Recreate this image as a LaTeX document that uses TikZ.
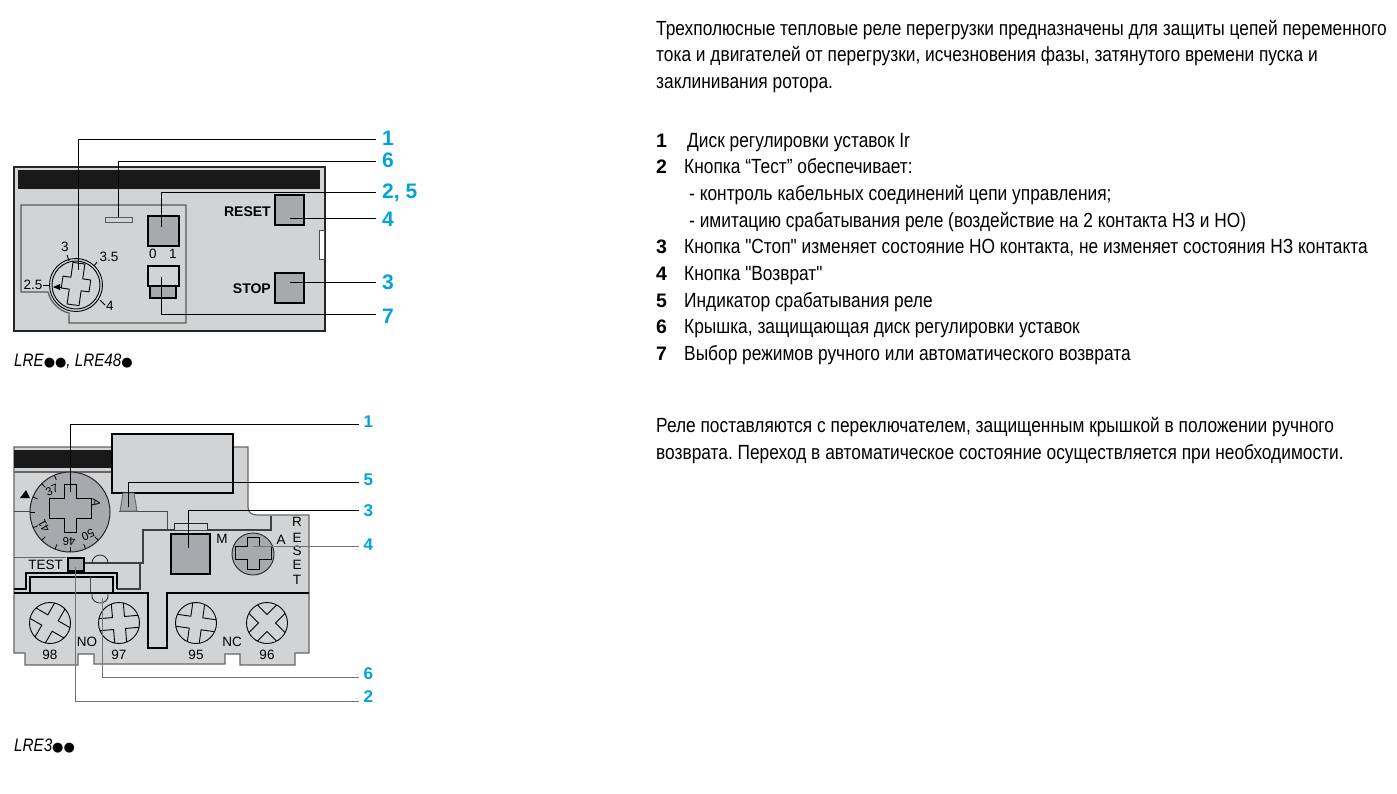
\documentclass[tikz,border=0pt]{standalone}
\usepackage{fontspec}
\setmainfont{Liberation Sans}[FakeStretch=0.845, Ligatures=TeXOff]
\newfontfamily\labelfont{Liberation Sans}
\newfontfamily\dotfont{DejaVu Sans}
\usetikzlibrary{positioning, calc}
\frenchspacing

\definecolor{bodygray}{HTML}{D1D3D4}
\definecolor{btngray}{HTML}{A7A9AC}
\definecolor{callblue}{HTML}{00A3DA}

% cross head: half width and length of upright arm, length and half width of side arm
\newcommand{\crossshape}[4]{(-#1,-#2) -- (#1,-#2) -- (#1,-#4) -- (#3,-#4) -- (#3,#4) -- (#1,#4) -- (#1,#2) -- (-#1,#2) -- (-#1,#4) -- (-#3,#4) -- (-#3,-#4) -- (-#1,-#4) -- cycle}
\newcommand{\bigdots}[1]{{\dotfont\fontsize{13}{13}\selectfont #1}}

\begin{document}
\begin{tikzpicture}[
    x=1pt, y=-1pt,
    txt/.style={anchor=base west, inner sep=0pt, font=\fontsize{20.5}{20.5}\selectfont},
    itemnum/.style={anchor=base west, inner sep=0pt, font=\labelfont\bfseries\fontsize{19.5}{19.5}\selectfont},
    caption/.style={anchor=base west, inner sep=0pt, font=\itshape\fontsize{18}{18}\selectfont},
    num/.style={anchor=west, inner sep=0pt, inner xsep=6pt, text=callblue, font=\labelfont\bfseries\fontsize{21}{21}\selectfont},
    numsmall/.style={anchor=west, inner sep=0pt, inner xsep=4.5pt, text=callblue, font=\labelfont\bfseries\fontsize{17}{17}\selectfont},
    panel/.style={inner sep=0pt, font=\labelfont\fontsize{13.5}{13.5}\selectfont},
    boldpanel/.style={inner sep=0pt, font=\labelfont\bfseries\fontsize{14}{14}\selectfont},
    small/.style={inner sep=0pt, font=\labelfont\fontsize{11.5}{11.5}\selectfont},
    lead/.style={draw=black, line width=0.9pt},
    greylead/.style={draw=black!55, line width=1pt},
    btn/.style={draw=black, line width=1.4pt, fill=btngray},
    pale/.style={draw=black, line width=1.4pt, fill=bodygray}
]
    \useasboundingbox (0,0) rectangle (1397,793);

    % Upper relay: housing
    \draw[fill=bodygray, draw=black!85, line width=2pt] (14,167) rectangle (325,331);
    \fill[black!90] (18,170) rectangle (320,189);
    \draw[draw=black!70, fill=white, line width=1pt] (319,230) rectangle (324,259);
    \draw[draw=black!65, line width=1.2pt] (21,205) -- (21,292) -- (48,292) arc[start angle=166, end angle=104, radius=29] -- (69,323) -- (186,323) -- (186,205) -- cycle;

    % Upper relay: buttons
    \draw[draw=black!65, fill=bodygray, line width=1pt] (105,217) rectangle (132,222);
    \node[btn, minimum width=31pt, minimum height=30pt, inner sep=0pt] (flag) at (163.5,231) {};
    \draw[pale] (148,266) rectangle (179,286);
    \draw[btn] (150,286) rectangle (176,298);
    \node[btn, minimum width=29pt, minimum height=30pt, inner sep=0pt] (resetbtn) at (289.5,210) {};
    \node[btn, minimum width=29pt, minimum height=30pt, inner sep=0pt] (stopbtn) at (289.5,288) {};
    \node[boldpanel, anchor=east] at (271,212) {RESET};
    \node[boldpanel, anchor=east] at (271,289) {STOP};
    \node[panel] at (153,254) {0};
    \node[panel] at (173,254) {1};

    % Upper relay: dial
    \draw[fill=bodygray, line width=0.9pt] (76,285) circle (26.5);
    \draw[fill=bodygray, line width=0.9pt] (76,285) circle (24);
    \draw[line width=0.9pt, fill=bodygray, shift={(76,284)}, rotate=-8] \crossshape{6}{21}{14}{6};
    \draw[line width=0.9pt] (67,255) -- (69,261);
    \draw[line width=0.9pt] (97,262) -- (94,266);
    \draw[line width=0.9pt] (43,285) -- (50,285);
    \draw[line width=0.9pt] (100,300) -- (105,305);
    \draw[line width=0.9pt] (54,287) -- (62,287);
    \fill (53,287) -- (60,284) -- (60,290) -- cycle;
    \node[panel] at (65,247) {3};
    \node[panel] at (109,257) {3.5};
    \node[panel] at (33,285) {2.5};
    \node[panel] at (110,306) {4};

    % Upper relay: callouts
    \node[num] (u1) at (376,138) {1};
    \node[num] (u6) at (376,160) {6};
    \node[num] (u25) at (376,193) {2, 5};
    \node[num] (u4) at (376,219) {4};
    \node[num] (u3) at (376,282) {3};
    \node[num] (u7) at (376,316) {7};
    \coordinate (dialtop) at (78,270);
    \coordinate (slot) at (118,217);
    \coordinate (flagpt) at (161,227);
    \coordinate (resetpt) at (290,218);
    \coordinate (stoppt) at (290,282);
    \coordinate (modept) at (161,277);
    \draw[lead] ([yshift=-1pt]u1.west) -| (dialtop);
    \draw[lead] ([yshift=-1pt]u6.west) -| (slot);
    \draw[lead] ([yshift=1pt]u25.west) -| (flagpt);
    \draw[lead] ([yshift=1pt]u4.west) -- (resetpt);
    \draw[lead] (u3.west) -- (stoppt);
    \draw[lead] ([yshift=2pt]u7.west) -| (modept);
    \node[caption] (cap1) at (14,366) {LRE\bigdots{●●}, LRE48\bigdots{●}};

    % Lower relay: housing
    \draw[fill=bodygray, draw=black!60, line width=1.2pt] (14,447) -- (248,447) -- (248,507) .. controls (248,513) and (252,515) .. (258,515) -- (309,515) -- (309,653) -- (295,653) -- (295,665) -- (240,665) -- (240,654) -- (225,654) -- (225,664) -- (94,664) -- (94,654) -- (78,654) -- (78,665) -- (25,665) -- (25,653) -- (14,653) -- cycle;
    \fill[black!90] (14,450) rectangle (112,468);
    \draw[draw=black!60, line width=1.2pt] (14,472) -- (112,472);
    \draw[draw=black!70, line width=1pt] (14,511) -- (30,511);
    \draw[draw=black!70, line width=1pt] (119,511) -- (167,511) -- (167,530);
    \draw[draw=black!75, line width=1.1pt] (271,516) -- (271,530) -- (143,530) -- (143,563) -- (84,563);
    \draw[draw=black!75, line width=1.1pt] (140,563) -- (140,589) -- (117,589);
    \draw[draw=black!60, line width=1pt] (14,557) -- (66,557);
    \draw[draw=black!85, line width=0.8pt] (92,563) arc[start angle=180, end angle=360, radius=8];
    \draw[draw=black, line width=1.3pt] (14,589) -- (26,589) -- (26,573) -- (117,573) -- (117,589);
    \draw[draw=black, line width=1.3pt] (30,593) -- (30,577) -- (113,577) -- (113,593);
    \draw[draw=black!70, line width=0.8pt] (90,577) -- (90,593);
    \draw[draw=black, line width=1.3pt] (14,593) -- (148,593) -- (148,648) -- (167,648) -- (167,593) -- (309,593);
    \draw[draw=black!85, line width=0.8pt] (92,593) -- (92,596) arc[start angle=180, end angle=0, x radius=8, y radius=7] -- (108,593);

    % Lower relay: dial and cover
    \draw[fill=btngray, draw=black!85, line width=1pt] (70,512) circle (40);
    \foreach \a in {45,67,90,112,135,157,180,202,225,247}
        \draw[line width=0.8pt, shift={(70,512)}] (\a:35) -- (\a:40);
    \draw[line width=0.9pt, fill=btngray, shift={(70,508)}] \crossshape{6}{24}{21}{10};
    \fill (20,498) -- (26,490) -- (30,498) -- cycle;
    \node[small, rotate=22] (d37) at (52,490) {37};
    \node[small, rotate=-100] (dA) at (96,503) {A};
    \node[small, rotate=118] (d41) at (44,526) {41};
    \node[small, rotate=180] (d46) at (69,541) {46};
    \node[small, rotate=205] (d50) at (88,535) {50};
    \draw[pale, line width=1.5pt] (112,434) rectangle (233,493);
    \draw[fill=btngray, draw=black!60, line width=0.9pt] (123,493) -- (134,493) -- (137,511) -- (120,511) -- cycle;

    % Lower relay: buttons and reset screw
    \draw[fill=bodygray, draw=black!85, line width=0.9pt] (174,530) -- (174,523) -- (207,523) -- (207,530);
    \node[btn, minimum width=39pt, minimum height=40pt, inner sep=0pt] (stopbox) at (190.5,554) {};
    \node[btn, minimum width=16pt, minimum height=13pt, inner sep=0pt] (testbtn) at (76,564.5) {};
    \draw[fill=btngray, draw=black!85, line width=0.9pt] (253,554) circle (21);
    \draw[line width=0.9pt, fill=btngray, shift={(253,553)}] \crossshape{6}{16}{18}{6.5};
    \node[panel] at (222,539) {M};
    \node[panel] at (281,540) {A};
    \node[panel] at (297,522) {R};
    \node[panel] at (297,538) {E};
    \node[panel] at (297,551) {S};
    \node[panel] at (297,565) {E};
    \node[panel] at (297,580) {T};
    \node[panel, anchor=east] at (63,565) {TEST};

    % Lower relay: terminals
    \foreach \x/\r/\t in {50/-30/98, 119/5/97, 196/-8/95, 267/45/96} {
        \begin{scope}
            \clip (\x,623) circle (20.5);
            \draw[line width=0.9pt, shift={(\x,623)}, rotate=\r] \crossshape{6}{24}{24}{6};
        \end{scope}
        \draw[line width=0.9pt] (\x,623) circle (20.5);
        \node[panel] at (\x,655) {\t};
    }
    \node[panel] at (87,642) {NO};
    \node[panel] at (232,642) {NC};

    % Lower relay: callouts
    \node[numsmall] (l1) at (359,422) {1};
    \node[numsmall] (l5) at (359,480) {5};
    \node[numsmall] (l3) at (359,511) {3};
    \node[numsmall] (l4) at (359,545) {4};
    \node[numsmall] (l6) at (359,674) {6};
    \node[numsmall] (l2) at (359,697) {2};
    \coordinate (ldial) at (70,492);
    \coordinate (ltab) at (128,507);
    \coordinate (lstop) at (188,548);
    \coordinate (lscrew) at (253,546);
    \coordinate (loval) at (102,598);
    \coordinate (ltest) at (75,567);
    \draw[lead] ([yshift=-2pt]l1.west) -| (ldial);
    \draw[lead] ([yshift=-2pt]l5.west) -| (ltab);
    \draw[lead] ([yshift=1pt]l3.west) -| (lstop);
    \draw[greylead] ([yshift=-1pt]l4.west) -- (lscrew);
    \draw[greylead] ([yshift=-3pt]l6.west) -| (loval);
    \draw[greylead] ([yshift=-4pt]l2.west) -| (ltest);
    \node[caption] (cap2) at (14,751) {LRE3\bigdots{●●}};

    % Right column
    \node[txt] (intro1) at (656,35) {Трехполюсные тепловые реле перегрузки предназначены для защиты цепей переменного};
    \node[txt] (intro2) at (656,61) {тока и двигателей от перегрузки, исчезновения фазы, затянутого времени пуска и};
    \node[txt] (intro3) at (656,88) {заклинивания ротора.};
    \foreach \n/\y in {1/147, 2/173, 3/253, 4/280, 5/307, 6/333, 7/360}
        \node[itemnum] (num\n) at (656,\y) {\n};
    \node[txt] (item1) at (687,147) {Диск регулировки уставок Ir};
    \node[txt] (item2) at (684,173) {Кнопка “Тест” обеспечивает:};
    \node[txt] (item2a) at (689,200) {- контроль кабельных соединений цепи управления;};
    \node[txt] (item2b) at (689,227) {- имитацию срабатывания реле (воздействие на 2 контакта НЗ и НО)};
    \node[txt] (item3) at (684,253) {Кнопка "Стоп" изменяет состояние НО контакта, не изменяет состояния НЗ контакта};
    \node[txt] (item4) at (684,280) {Кнопка "Возврат"};
    \node[txt] (item5) at (684,307) {Индикатор срабатывания реле};
    \node[txt] (item6) at (684,333) {Крышка, защищающая диск регулировки уставок};
    \node[txt] (item7) at (684,360) {Выбор режимов ручного или автоматического возврата};
    \node[txt] (note1) at (656,432) {Реле поставляются с переключателем, защищенным крышкой в положении ручного};
    \node[txt] (note2) at (656,459) {возврата. Переход в автоматическое состояние осуществляется при необходимости.};
\end{tikzpicture}
\end{document}
